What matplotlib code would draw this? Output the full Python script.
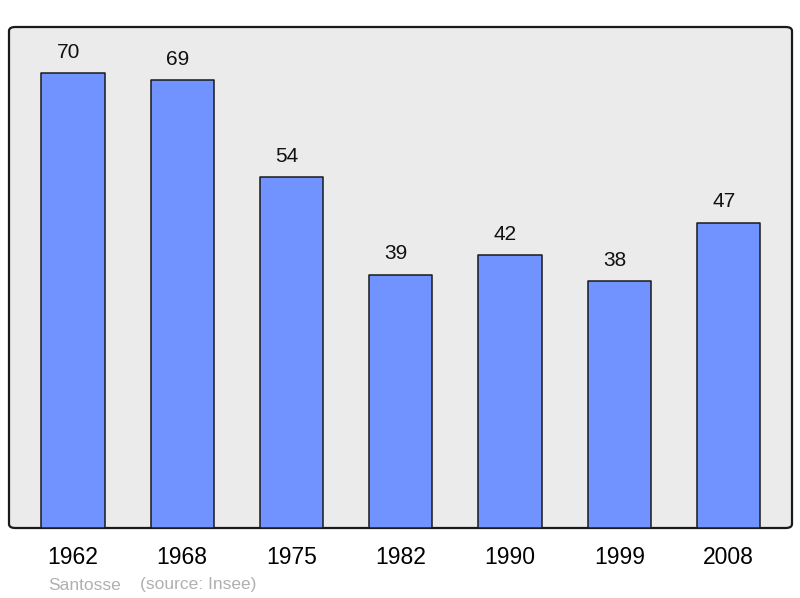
import matplotlib.pyplot as plt
from matplotlib.patches import FancyBboxPatch

plt.rcParams['font.family'] = ['Liberation Sans', 'DejaVu Sans']

years = ["1962", "1968", "1975", "1982", "1990", "1999", "2008"]
population = [70, 69, 54, 39, 42, 38, 47]

fig = plt.figure(figsize=(8, 5.98), dpi=100)
ax = fig.add_axes([9 / 800, 70 / 598, 783 / 800, 501 / 598])
ax.set_facecolor("none")

# rounded frame behind the bars
frame = FancyBboxPatch((0, 0), 1, 1, boxstyle="round,pad=0,rounding_size=0.008",
                       transform=ax.transAxes, facecolor="#ebebeb",
                       edgecolor="#1a1a1a", linewidth=1.6, zorder=0, clip_on=False)
ax.add_patch(frame)

x = range(len(years))
bars = ax.bar(x, population, width=0.58, color="#7093ff", edgecolor="#1a1a1a",
              linewidth=1.1, zorder=2)
for b in bars:
    b.set_joinstyle("round")

# value labels sit a little left of the bar centre in the original
for xi, v in zip(x, population):
    ax.annotate(str(v), (xi, v), xytext=(-3.5, 8), textcoords="offset points",
                ha="center", va="bottom", fontsize=15, color="#111111")

ax.set_xlim(-0.585, 6.58)
ax.set_ylim(0, 77.1)
ax.set_xticks(list(x))
ax.set_xticklabels(years, fontsize=16.5)
ax.tick_params(axis="x", length=0, pad=13)
ax.set_yticks([])
for s in ax.spines.values():
    s.set_visible(False)

fig.text(48 / 800, 1 - 585 / 598, "Santosse", color="#b0b0b0", fontsize=12.5, va="center")
fig.text(140 / 800, 1 - 585 / 598, "(source: Insee)", color="#b0b0b0", fontsize=12.5, va="center")

fig.savefig("out.png", dpi=100)
